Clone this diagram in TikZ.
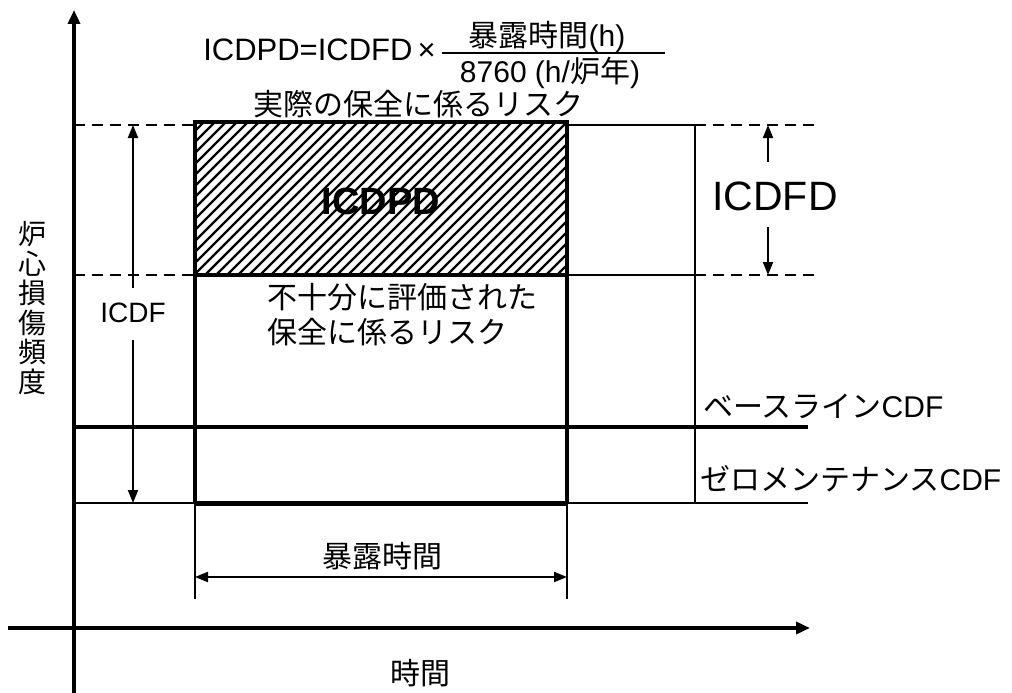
\documentclass[tikz,border=0pt]{standalone}
\usepackage{fontspec}
\setmainfont{Liberation Sans}
\newfontfamily\cjk{Noto Sans CJK JP}
\usetikzlibrary{arrows.meta}
\begin{document}
\begin{tikzpicture}[x=1pt,y=-1pt,
  axisline/.style={line width=3.5pt,-{Triangle[length=14pt,width=12pt]}},
  dimarrow/.style={line width=2pt,-{Triangle[length=13pt,width=10pt]}},
  dimboth/.style={line width=2pt,{Triangle[length=13pt,width=10pt]}-{Triangle[length=13pt,width=10pt]}},
  dashline/.style={line width=2.5pt,dash pattern=on 11pt off 7pt},
  thickline/.style={line width=4pt},
  thinline/.style={line width=2.3pt},
  lbl/.style={inner sep=0pt,font=\fontsize{30}{35}\selectfont},
  jlbl/.style={inner sep=0pt,font=\fontsize{30}{35}\selectfont\cjk},
]
\useasboundingbox (0,0) rectangle (1012,693);

% coordinates
\coordinate (yaxB) at (74,693);
\coordinate (yaxT) at (74,10);
\coordinate (xaxL) at (8,628);
\coordinate (xaxR) at (810,628);

% hatch
\begin{scope}
  \clip (195,122) rectangle (567,275);
  \foreach \k in {40,51,...,580}
    \draw[line width=2.2pt] (\k,275) -- ++(153,-153);
\end{scope}
\draw[line width=4.5pt] (195,122) rectangle (567,275);

% dashed levels
\draw[dashline] (74,125) -- (195,125);
\draw[dashline] (74,275) -- (195,275);
\draw[dashline] (695,125) -- (815,125);
\draw[dashline] (695,275) -- (815,275);

% right box
\draw[thinline] (567,125) -- (695,125);
\draw[thinline] (567,275) -- (695,275);
\draw[thinline] (695,125) -- (695,503);

% vertical box lines
\draw[thickline] (195,275) -- (195,503);
\draw[thickline] (567,275) -- (567,503);
\draw[thinline] (195,503) -- (195,599);
\draw[thinline] (567,503) -- (567,599);

% CDF lines
\draw[line width=3.5pt] (74,427) -- (808,427);
\draw[thinline] (74,503) -- (808,503);
\draw[line width=5pt] (195,503) -- (567,503);

% axes
\draw[axisline] (yaxB) -- (yaxT);
\draw[axisline] (xaxL) -- (xaxR);

% labels
\node[inner sep=0pt,font=\fontsize{28}{29.5}\selectfont\cjk,align=center] (ylab) at (32,308) {炉\\心\\損\\傷\\頻\\度};
\node[jlbl] (tlab) at (420,673) {時間};

\node[lbl,anchor=east] (f1) at (436,50) {\fontsize{31}{35}\selectfont ICDPD=ICDFD\,×};
\node[lbl] (num) at (547,37) {{\cjk 暴露時間}(h)};
\node[lbl] (den) at (550,73) {8760 (h/{\cjk 炉年})};
\coordinate (fl1) at (442,53);
\coordinate (fl2) at (665,53);
\draw[line width=2.3pt] (fl1) -- (fl2);

\node[jlbl] (actual) at (418,104) {実際の保全に係るリスク};
\node[inner sep=0pt,font=\fontsize{38}{40}\selectfont\bfseries] (icdpd) at (381,201) {ICDPD};
\node[jlbl,anchor=west,align=left,font=\fontsize{30}{35}\selectfont\cjk] (under) at (267,315) {不十分に評価された\\保全に係るリスク};

\node[lbl,anchor=west] (base) at (703,406) {{\cjk ベースライン}CDF};
\node[lbl,anchor=west] (zero) at (700,479) {{\cjk ゼロメンテナンス}CDF};

% ICDF arrow
\node[inner sep=0pt,font=\fontsize{28}{30}\selectfont] (icdf) at (133,313) {ICDF};
\coordinate (icdfT) at (133,125);
\coordinate (icdfB) at (133,503);
\draw[dimarrow] (133,288) -- (icdfT);
\draw[dimarrow] (133,340) -- (icdfB);

% ICDFD arrow
\node[inner sep=0pt,font=\fontsize{41}{44}\selectfont] (icdfd) at (775,196) {ICDFD};
\coordinate (icdfdT) at (768,125);
\coordinate (icdfdB) at (768,275);
\draw[dimarrow] (768,162) -- (icdfdT);
\draw[dimarrow] (768,227) -- (icdfdB);

% exposure time
\node[jlbl] (expo) at (382,556) {暴露時間};
\coordinate (exL) at (195,577);
\coordinate (exR) at (567,577);
\draw[dimboth] (exL) -- (exR);
\end{tikzpicture}
\end{document}
